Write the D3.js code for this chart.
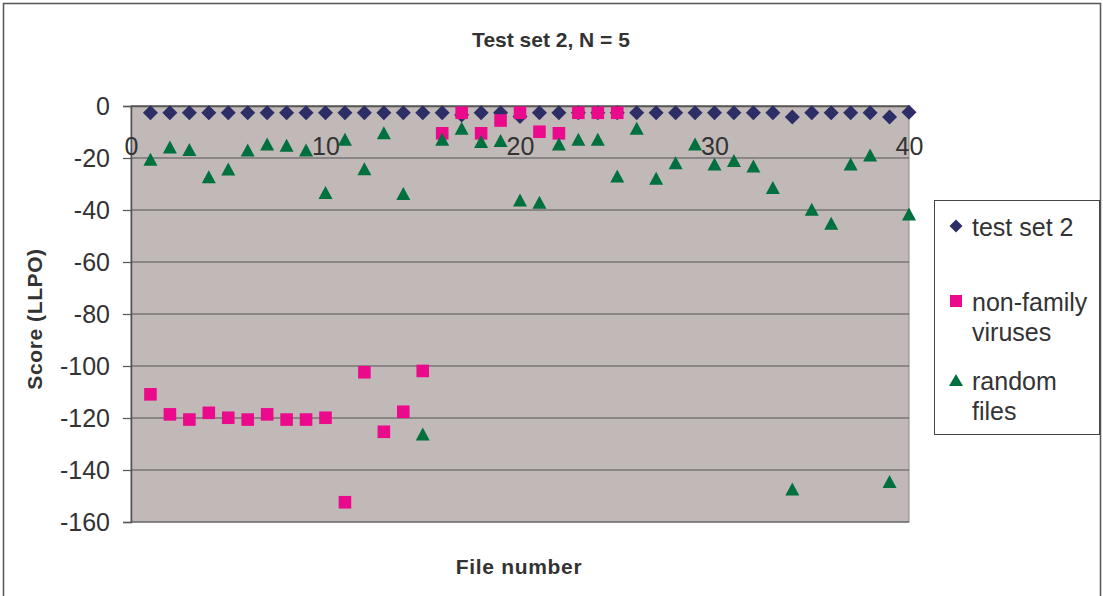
<!DOCTYPE html>
<html>
<head>
<meta charset="utf-8">
<script src="https://cdn.jsdelivr.net/npm/d3@7"></script>
<style>
  html, body { margin: 0; padding: 0; background: #fff; }
  svg { display: block; font-family: "Liberation Sans", Arial, sans-serif; }
</style>
</head>
<body>
<svg id="chart" width="1103" height="596"></svg>
<script>
// ---- data ----
const fileNumbers = d3.range(1, 41);
const testSet2 = [-2.6,-2.6,-2.6,-2.6,-2.6,-2.6,-2.6,-2.6,-2.6,-2.6,
                  -2.6,-2.6,-2.6,-2.6,-2.6,-2.6,-3.5,-2.6,-2.6,-4.0,
                  -2.6,-2.6,-2.6,-2.6,-2.6,-2.6,-2.6,-2.6,-2.6,-2.6,
                  -2.6,-2.6,-2.6,-4.2,-2.6,-2.6,-2.6,-2.6,-4.2,-2.4];
const nonFamilyFiles = d3.range(1, 26);
const nonFamily = [-110.9,-118.6,-120.6,-118.0,-119.9,-120.6,-118.6,-120.6,-120.6,-119.9,
                   -152.4,-102.4,-125.3,-117.6,-101.9,-10.5,-2.6,-10.5,-5.6,-2.6,
                   -9.9,-10.5,-2.6,-2.6,-2.6];
const randomFiles = [-20.5,-15.8,-16.7,-27.2,-24.2,-16.9,-14.6,-15.1,-16.9,-33.3,
                     -12.8,-24.1,-10.3,-33.7,-126.2,-12.8,-8.6,-13.7,-13.3,-36.2,
                     -37.0,-14.6,-12.8,-12.8,-26.9,-8.6,-27.8,-21.8,-14.6,-22.3,
                     -21.0,-23.1,-31.3,-147.3,-39.7,-45.1,-22.3,-18.8,-144.4,-41.5];
const yTicks = [0,-20,-40,-60,-80,-100,-120,-140,-160];
const xTicks = [0,10,20,30,40];
const seriesNames = [["test set 2"], ["non-family", "viruses"], ["random", "files"]];
const seriesColors = ["#2e2e66", "#ec0a8c", "#00703f"];

// ---- layout ----
const svg = d3.select("#chart");
const W = 1103, H = 596;
const plot = {left: 131, right: 909, top: 106, bottom: 522};
const x = d3.scaleLinear().domain([0, 40]).range([plot.left, plot.right]);
const y = d3.scaleLinear().domain([-160, 0]).range([plot.bottom, plot.top]);
const textColor = "#333";

// outer border
svg.append("rect").attr("x", 3.5).attr("y", 3.5).attr("width", W - 6).attr("height", H + 10)
  .attr("fill", "#fff").attr("stroke", "#555").attr("stroke-width", 1.5);

// plot background
svg.append("rect").attr("x", plot.left).attr("y", plot.top)
  .attr("width", plot.right - plot.left).attr("height", plot.bottom - plot.top)
  .attr("fill", "#c0b9b7").attr("stroke", "#888").attr("stroke-width", 1);

// gridlines
svg.append("g").selectAll("line").data(yTicks).join("line")
  .attr("x1", plot.left).attr("x2", plot.right)
  .attr("y1", d => y(d)).attr("y2", d => y(d))
  .attr("stroke", "#555").attr("stroke-width", 1.2);

// y axis
const yAxis = svg.append("g").attr("transform", `translate(${plot.left},0)`)
  .call(d3.axisLeft(y).tickValues(yTicks).tickSize(8).tickPadding(13).tickFormat(d => String(d)));
yAxis.select(".domain").attr("stroke", "#555").attr("stroke-width", 1.5);
yAxis.selectAll(".tick line").attr("stroke", "#555").attr("stroke-width", 1.2);
yAxis.selectAll("text").attr("font-size", 25).attr("fill", textColor)
  .attr("font-family", "Liberation Sans, Arial, sans-serif");

// x axis (crosses at y = 0, labels below)
const xAxis = svg.append("g").attr("transform", `translate(0,${y(0)})`)
  .call(d3.axisBottom(x).tickValues(xTicks).tickSize(0).tickPadding(31).tickFormat(d => String(d)));
xAxis.select(".domain").attr("stroke", "#555").attr("stroke-width", 1.5);
xAxis.selectAll("text").attr("font-size", 25).attr("fill", textColor)
  .attr("font-family", "Liberation Sans, Arial, sans-serif");

// marker paths
function diamond(cx, cy, r) { return `M${cx},${cy - r}L${cx + r},${cy}L${cx},${cy + r}L${cx - r},${cy}Z`; }
function square(cx, cy, s) { return `M${cx - s},${cy - s}h${2 * s}v${2 * s}h${-2 * s}Z`; }
function triangle(cx, cy, w, h) { return `M${cx},${cy - h / 2}L${cx + w / 2},${cy + h / 2}L${cx - w / 2},${cy + h / 2}Z`; }

// series
svg.append("g").selectAll("path").data(fileNumbers.map((f, i) => [f, testSet2[i]])).join("path")
  .attr("d", d => diamond(x(d[0]), y(d[1]), 7.5)).attr("fill", seriesColors[0]);
svg.append("g").selectAll("path").data(nonFamilyFiles.map((f, i) => [f, nonFamily[i]])).join("path")
  .attr("d", d => square(x(d[0]), y(d[1]), 6.3)).attr("fill", seriesColors[1]);
svg.append("g").selectAll("path").data(fileNumbers.map((f, i) => [f, randomFiles[i]])).join("path")
  .attr("d", d => triangle(x(d[0]), y(d[1]), 14, 13)).attr("fill", seriesColors[2]);

// title
svg.append("text").attr("x", 551).attr("y", 47).attr("text-anchor", "middle")
  .attr("font-size", 21).attr("font-weight", "bold").attr("fill", textColor)
  .text("Test set 2, N = 5");

// axis titles
svg.append("text").attr("x", 519).attr("y", 574).attr("text-anchor", "middle")
  .attr("font-size", 21).attr("font-weight", "bold").attr("fill", textColor)
  .attr("letter-spacing", 0.7).text("File number");
svg.append("text").attr("transform", "translate(42,319) rotate(-90)").attr("text-anchor", "middle")
  .attr("font-size", 21).attr("font-weight", "bold").attr("fill", textColor)
  .attr("letter-spacing", 0.6).text("Score (LLPO)");

// legend
const legend = svg.append("g");
legend.append("rect").attr("x", 934.5).attr("y", 200.5).attr("width", 165).attr("height", 234)
  .attr("fill", "#fff").attr("stroke", "#444").attr("stroke-width", 1);
const legendRows = [227, 302, 381];
const lg = legend.selectAll("g.item").data(seriesNames).join("g").attr("class", "item");
lg.append("path").attr("d", (d, i) => {
  const cy = legendRows[i] - 1;
  if (i === 0) return diamond(956, cy, 6.5);
  if (i === 1) return square(956, cy, 6);
  return triangle(956, cy, 14, 12);
}).attr("fill", (d, i) => seriesColors[i]);
lg.each(function(lines, i) {
  const t = d3.select(this).append("text").attr("x", 972).attr("y", legendRows[i] + 9)
    .attr("font-size", 25).attr("fill", textColor);
  lines.forEach((ln, k) => t.append("tspan").attr("x", 972).attr("dy", k === 0 ? 0 : 30).text(ln));
});
</script>
</body>
</html>
